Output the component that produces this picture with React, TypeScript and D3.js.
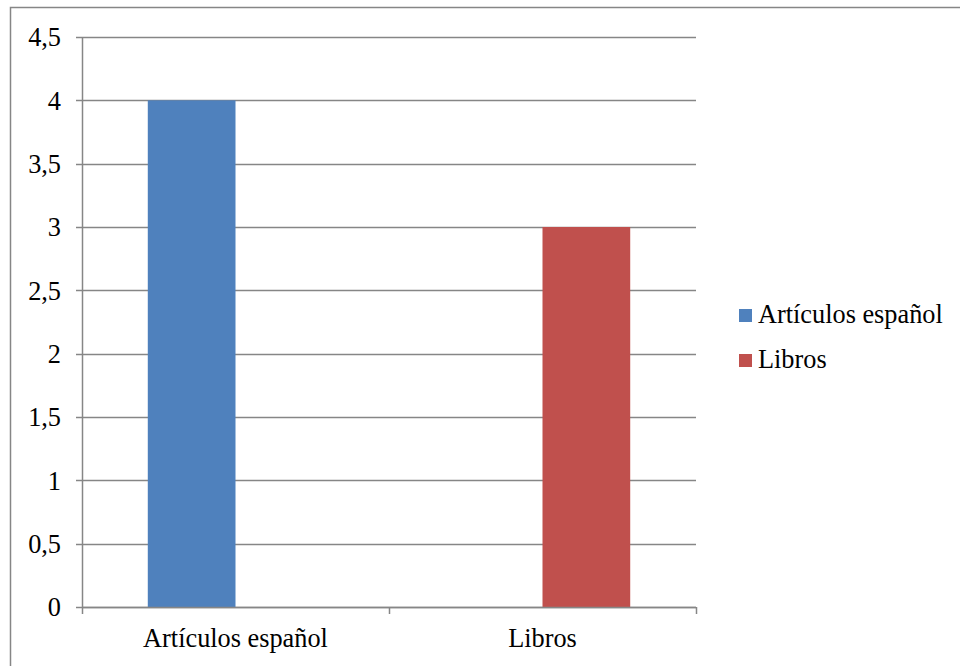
import React from "react";
import * as d3 from "d3";

const categories = ["Artículos español", "Libros"];
const seriesNames = ["Artículos español", "Libros"];
const seriesValues: number[][] = [
  [4, 0],
  [0, 3],
];
const yTicks = [0, 0.5, 1, 1.5, 2, 2.5, 3, 3.5, 4, 4.5];
const colors = ["#4F81BD", "#C0504D"];

const W = 960;
const H = 666;
const left = 82;
const right = 696;
const top = 37;
const bottom = 607;
const fs = 26.3;
const gridColor = "#868686";

function Label(props: { x: number; y: number; anchor?: string; dy?: string; children: React.ReactNode }) {
  return (
    <text
      x={props.x}
      y={props.y}
      dy={props.dy}
      textAnchor={props.anchor || "start"}
      style={{ fontFamily: "Liberation Serif", fontSize: fs }}
    >
      {props.children}
    </text>
  );
}

export default function App() {
  const x = d3.scaleBand<string>().domain(categories).range([left, right]).paddingInner(0).paddingOuter(0);
  const xs = d3
    .scaleBand<string>()
    .domain(seriesNames)
    .range([0, x.bandwidth()])
    .paddingInner(0)
    .paddingOuter(0.75);
  const y = d3.scaleLinear().domain([0, 4.5]).range([bottom, top]);
  const fmt = (v: number) => String(v).replace(".", ",");
  const catTicks = [left, ...categories.map((c) => (x(c) as number) + x.bandwidth())];

  return (
    <svg width={W} height={H} style={{ position: "absolute", left: 0, top: 0, background: "#fff" }}>
      <rect x={10.5} y={7.5} width={W + 10} height={H + 10} fill="#fff" stroke={gridColor} strokeWidth={1.5} />
      {yTicks.map((t) => (
        <line
          key={"g" + t}
          x1={left - 6}
          x2={right}
          y1={Math.round(y(t)) + 0.5}
          y2={Math.round(y(t)) + 0.5}
          stroke={gridColor}
          strokeWidth={1.5}
        />
      ))}
      {yTicks.map((t) => (
        <Label key={"l" + t} x={61} y={y(t)} dy="0.35em" anchor="end">
          {fmt(t)}
        </Label>
      ))}
      {seriesNames.map((s, si) =>
        categories.map((c, ci) => {
          const v = seriesValues[si][ci];
          if (!v) return null;
          const bx = (x(c) as number) + (xs(s) as number);
          return <rect key={s + c} x={bx} y={y(v)} width={xs.bandwidth()} height={bottom - y(v)} fill={colors[si]} />;
        })
      )}
      <line x1={left + 0.5} x2={left + 0.5} y1={top} y2={bottom} stroke={gridColor} strokeWidth={1.5} />
      <line x1={left} x2={right} y1={bottom + 0.5} y2={bottom + 0.5} stroke={gridColor} strokeWidth={1.5} />
      {catTicks.map((t, i) => (
        <line key={i} x1={t + 0.5} x2={t + 0.5} y1={bottom} y2={bottom + 7} stroke={gridColor} strokeWidth={1.5} />
      ))}
      {categories.map((c) => (
        <Label key={c} x={(x(c) as number) + x.bandwidth() / 2} y={647} anchor="middle">
          {c}
        </Label>
      ))}
      {seriesNames.map((s, i) => (
        <rect key={"r" + s} x={739} y={309 + i * 45} width={13} height={13} fill={colors[i]} />
      ))}
      {seriesNames.map((s, i) => (
        <Label key={"t" + s} x={758} y={323 + i * 45}>
          {s}
        </Label>
      ))}
    </svg>
  );
}
